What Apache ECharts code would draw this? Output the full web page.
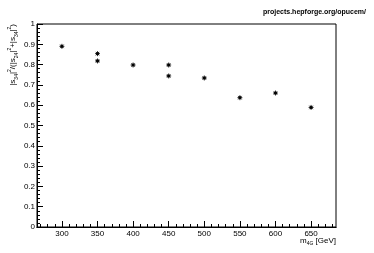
<!DOCTYPE html>
<html><head><meta charset="utf-8">
<script src="https://cdn.jsdelivr.net/npm/echarts@6/dist/echarts.min.js"></script>
<style>html,body{margin:0;padding:0;background:#fff}#c{width:374px;height:253px}</style>
</head><body><div id="c"></div>
<script>
const masses = [300, 350, 350, 400, 450, 450, 500, 550, 600, 650];
const ratios = [0.890, 0.854, 0.818, 0.798, 0.798, 0.744, 0.734, 0.637, 0.660, 0.589];
const xMajorTicks = [300, 350, 400, 450, 500, 550, 600, 650];
const xMinorTicks = [270,280,290,300,310,320,330,340,350,360,370,380,390,400,410,420,430,440,450,460,470,480,490,500,510,520,530,540,550,560,570,580,590,600,610,620,630,640,650,660,670,680];

const chart = echarts.init(document.getElementById('c'));
const F = 'Liberation Sans, Arial, sans-serif';
const xBase = {
  type: 'value', min: 265, max: 685, position: 'bottom',
  axisLine: { show: true, lineStyle: { color: '#000', width: 1 } },
  splitLine: { show: false }
};
chart.setOption({
  animation: false,
  grid: { left: 37, right: 38, top: 24, bottom: 26, show: true, borderColor: '#000', borderWidth: 1, backgroundColor: 'transparent' },
  xAxis: [
    Object.assign({}, xBase, {
      axisTick: { show: true, inside: true, length: 6, customValues: xMajorTicks, lineStyle: { color: '#000' } },
      axisLabel: { show: true, customValues: xMajorTicks, fontFamily: F, fontSize: 8, color: '#000', margin: 3 }
    }),
    Object.assign({}, xBase, {
      axisTick: { show: true, inside: true, length: 3, customValues: xMinorTicks, lineStyle: { color: '#000' } },
      axisLabel: { show: false }
    })
  ],
  yAxis: {
    type: 'value', min: 0, max: 1, interval: 0.1,
    axisLine: { show: true, lineStyle: { color: '#000' } },
    axisTick: { show: true, inside: true, length: 6, lineStyle: { color: '#000' } },
    minorTick: { show: true, splitNumber: 5, length: 3, lineStyle: { color: '#000' } },
    splitLine: { show: false },
    axisLabel: { fontFamily: F, fontSize: 8, color: '#000', margin: 2,
      formatter: v => (Math.round(v * 10) / 10).toString() }
  },
  series: [{
    type: 'scatter', xAxisIndex: 0,
    data: masses.map((m, i) => [m, ratios[i]]),
    symbol: 'path://M0,5L10,5M5,0L5,10M1.5,1.5L8.5,8.5M8.5,1.5L1.5,8.5M3,3L7,3L7,7L3,7Z',
    symbolSize: 5,
    itemStyle: { color: '#000', borderColor: '#000', borderWidth: 1 }
  }],
  graphic: [
    { type: 'text', right: 8, top: 9, style: { text: 'projects.hepforge.org/opucem/', font: 'bold 7px ' + F, fill: '#000' } },
    { type: 'text', x: 336, y: 241, style: {
      text: 'm{sub|4G} [GeV]', font: '8px ' + F, fill: '#000', align: 'right', verticalAlign: 'middle',
      rich: { sub: { fontSize: 5, fontFamily: F, verticalAlign: 'bottom', lineHeight: 10 } } } },
    { type: 'text', x: 13, y: 24, rotation: Math.PI / 2, style: {
      text: '|s{sub|34}|{sup|2}/(|s{sub|24}|{sup|2}+|s{sub|34}|{sup|2})', font: '8px ' + F, fill: '#000',
      align: 'right', verticalAlign: 'middle', lineHeight: 12,
      rich: {
        sub: { fontSize: 5, fontFamily: F, verticalAlign: 'bottom', lineHeight: 12 },
        sup: { fontSize: 5, fontFamily: F, verticalAlign: 'top', lineHeight: 12 }
      } } }
  ]
});
</script></body></html>
